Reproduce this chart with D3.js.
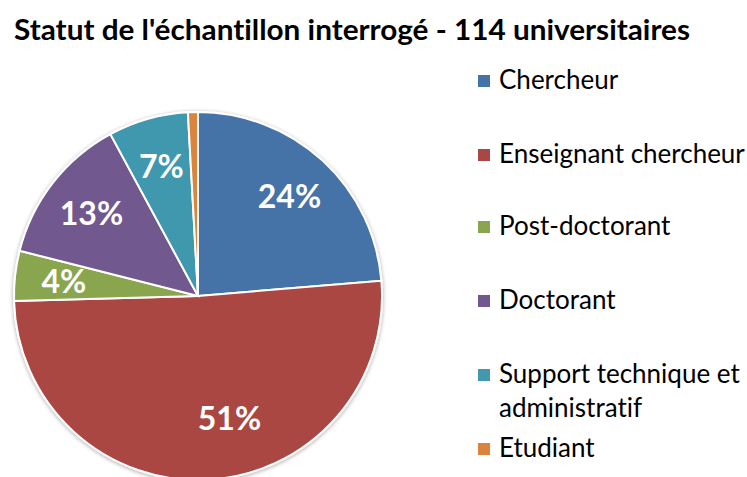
<!DOCTYPE html>
<html>
<head>
<meta charset="utf-8">
<script src="https://cdn.jsdelivr.net/npm/d3@7"></script>
<style>
  body { margin: 0; background: #fff; }
  text { font-family: Lato, "Open Sans", sans-serif; font-variant-ligatures: none; }
</style>
</head>
<body>
<div id="chart"></div>
<script>
// counts (114 respondents)
var categories = ["Chercheur", "Enseignant chercheur", "Post-doctorant", "Doctorant", "Support technique et administratif", "Etudiant"];
var legendLines = [["Chercheur"], ["Enseignant chercheur"], ["Post-doctorant"], ["Doctorant"], ["Support technique et", "administratif"], ["Etudiant"]];
var counts = [27, 58, 5, 15, 8, 1];
var colors = ["#4572A7", "#AA4643", "#89A54E", "#71588F", "#4198AF", "#DB843D"];

var width = 747, height = 477;
var cx = 198, cy = 296, radius = 184;

var svg = d3.select("#chart").append("svg")
  .attr("width", width)
  .attr("height", height);

// soft shadow round the pie
var defs = svg.append("defs");
var filter = defs.append("filter").attr("id", "shadow")
  .attr("x", "-10%").attr("y", "-10%").attr("width", "120%").attr("height", "120%");
filter.append("feGaussianBlur").attr("in", "SourceAlpha").attr("stdDeviation", 2);
filter.append("feOffset").attr("dx", 0).attr("dy", 1).attr("result", "blur");
filter.append("feComponentTransfer").append("feFuncA").attr("type", "linear").attr("slope", 0.35);
var merge = filter.append("feMerge");
merge.append("feMergeNode");
merge.append("feMergeNode").attr("in", "SourceGraphic");

svg.append("text")
  .attr("x", 14)
  .attr("y", 40)
  .attr("font-size", 28)
  .attr("font-weight", "bold")
  .attr("fill", "#000")
  .attr("textLength", 676)
  .attr("lengthAdjust", "spacingAndGlyphs")
  .text("Statut de l'échantillon interrogé - 114 universitaires");

var total = d3.sum(counts);
var pie = d3.pie().sort(null).value(d => d);
var arcs = pie(counts);

var arc = d3.arc().innerRadius(0).outerRadius(radius);
var labelArc = d3.arc().innerRadius(135).outerRadius(135);

var g = svg.append("g").attr("transform", "translate(" + cx + "," + cy + ")");

g.append("g").attr("filter", "url(#shadow)")
  .selectAll("path")
  .data(arcs)
  .enter().append("path")
    .attr("d", arc)
    .attr("fill", (d, i) => colors[i])
    .attr("stroke", "#fff")
    .attr("stroke-width", 2);

// percentage labels, the 1% slice has none
g.selectAll(".val")
  .data(arcs.filter(d => d.value / total > 0.02))
  .enter().append("text")
    .attr("class", "val")
    .attr("transform", d => {
      var c = labelArc.centroid(d);
      // big slice label sits a bit right of its centroid, as in the original
      if (d.value / total > 0.4) c = [c[0] + 24, c[1] - 12];
      return "translate(" + c + ")";
    })
    .attr("text-anchor", "middle")
    .attr("dy", "0.36em")
    .attr("font-size", 32)
    .attr("font-weight", "bold")
    .attr("fill", "#fff")
    .text(d => Math.round(d.value / total * 100) + "%");

// legend
var legendY = [89, 163, 235, 309, 383, 457];
var legend = svg.append("g");
var items = legend.selectAll("g")
  .data(categories)
  .enter().append("g")
    .attr("transform", (d, i) => "translate(478," + legendY[i] + ")");

items.append("rect")
  .attr("y", -14)
  .attr("width", 12)
  .attr("height", 12)
  .attr("fill", (d, i) => colors[i]);

items.each(function(d, i) {
  var t = d3.select(this).append("text")
    .attr("x", 21)
    .attr("font-size", 26)
    .attr("fill", "#000");
  legendLines[i].forEach((line, j) => {
    t.append("tspan").attr("x", 21).attr("dy", j == 0 ? 0 : 34).text(line);
  });
});
</script>
</body>
</html>
